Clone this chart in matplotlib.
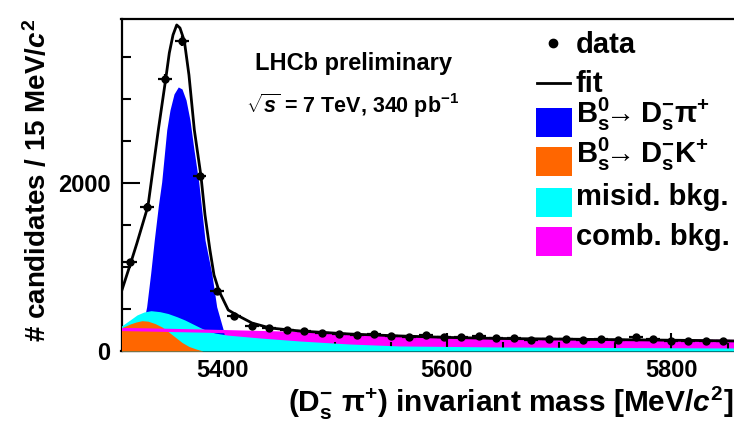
import numpy as np
import matplotlib
matplotlib.use("Agg")
import matplotlib.pyplot as plt
from matplotlib.patches import Rectangle
from matplotlib.lines import Line2D
from matplotlib.ticker import MultipleLocator, FixedLocator

# ---------------- data ----------------
bin_start = 5317.3     # first bin centre [MeV]
bin_width = 15.55      # [MeV]
data_counts = [1065, 1720, 3238, 3694, 2083, 718, 417, 298, 276, 246, 242, 217,
               202, 190, 202, 179, 170, 190, 163, 170, 179, 158, 158, 131, 143,
               139, 131, 139, 131, 163, 139, 123, 119, 123, 119]

fit_x = [5310.4, 5318.5, 5323.8, 5333.6, 5342.8, 5349.4, 5352.6, 5355.9, 5359.2,
         5362.1, 5366.0, 5370.1, 5374.9, 5380.8, 5384.4, 5388.8, 5392.4, 5396.9,
         5405.1, 5412.6, 5426.3, 5442.3, 5469.0, 5513.6, 5558.1, 5602.7, 5647.2,
         5691.8, 5736.3, 5780.8, 5825.4, 5858.0]
fit_y = [726, 1060, 1286, 1726, 2631, 3238, 3548, 3762, 3881, 3845, 3690, 3286,
         2631, 2083, 1619, 1202, 905, 714, 488, 429, 333, 274, 238, 202, 179, 161,
         149, 143, 137, 131, 125, 119]

sig_x = [5320.2, 5324.7, 5329.2, 5332.4, 5336.0, 5339.2, 5342.8, 5345.8, 5350.3,
         5353.2, 5356.8, 5360.6, 5363.9, 5367.5, 5371.0, 5374.6, 5378.8, 5384.4,
         5390.4, 5394.8, 5400.7, 5403.1, 5404.9]
sig_y = [0, 131, 310, 527, 925, 1321, 1726, 2012, 2631, 2869, 3060, 3143, 3119,
         2988, 2750, 2393, 2012, 1321, 925, 527, 250, 71, 0]

dsk_x = [5310.0, 5317.6, 5322.9, 5328.3, 5333.6, 5339.8, 5346.1, 5351.5, 5357.7,
         5364.0, 5370.1, 5376.4, 5382.6]
dsk_y = [277, 321, 345, 361, 355, 327, 286, 232, 167, 101, 54, 24, 0]

misid_x = [5310.0, 5317.6, 5323.8, 5330.0, 5336.3, 5344.3, 5351.5, 5359.4, 5366.5,
           5373.7, 5379.9, 5386.2, 5393.3, 5404.0, 5433.4, 5469.0, 5513.6, 5558.1,
           5647.2, 5736.3, 5858.0]
misid_y = [298, 369, 429, 464, 480, 468, 446, 408, 369, 321, 280, 242, 214, 190,
           155, 119, 83, 60, 48, 42, 36]

comb_x = [5310.0, 5335.4, 5379.9, 5404.0, 5469.0, 5522.5, 5558.1, 5647.2, 5736.3, 5858.0]
comb_y = [256, 250, 238, 230, 208, 173, 161, 137, 125, 113]

x_ticks = [5400, 5600, 5800]
y_ticks = [0, 2000]

legend_labels = ["data", "fit",
                 r"B$_\mathregular{s}^\mathregular{0}$$\!\!\rightarrow$D$_\mathregular{s}^\mathregular{-}$π$^\mathregular{+}$",
                 r"B$_\mathregular{s}^\mathregular{0}$$\!\!\rightarrow$D$_\mathregular{s}^\mathregular{-}$K$^\mathregular{+}$",
                 "misid. bkg.", "comb. bkg."]

# ---------------- style ----------------
W, H = 734, 421
plt.rcParams['font.family'] = ['Liberation Sans', 'DejaVu Sans']
plt.rcParams['font.weight'] = 'bold'
plt.rcParams['mathtext.fontset'] = 'custom'
plt.rcParams['mathtext.rm'] = 'Liberation Sans:bold'
plt.rcParams['mathtext.it'] = 'Liberation Sans:italic:bold'
plt.rcParams['mathtext.bf'] = 'Liberation Sans:bold'

BLUE = '#0000ff'
ORANGE = '#ff6600'
CYAN = '#00ffff'
MAGENTA = '#ff00ff'

fig = plt.figure(figsize=(W / 100, H / 100), dpi=100)

def fx(px):
    return px / W

def fy(py):
    return 1 - py / H

ax_l, ax_r, ax_t, ax_b = 121.5, 738.8, 19, 351
ax = fig.add_axes([fx(ax_l), fy(ax_b), (ax_r - ax_l) / W, (ax_b - ax_t) / H])
ax.set_xlim(5310, 5860)
ax.set_ylim(0, 3952)

bins = bin_start + bin_width * np.arange(len(data_counts))
counts = np.array(data_counts, dtype=float)

ax.fill_between(comb_x, 0, comb_y, color=MAGENTA, lw=0, zorder=1)
ax.fill_between(sig_x, 0, sig_y, color=BLUE, lw=0, zorder=2)
ax.fill_between(misid_x, 0, misid_y, color=CYAN, lw=0, zorder=3)
ax.fill_between(dsk_x, 0, dsk_y, color=ORANGE, lw=0, zorder=4)
ax.plot(comb_x, comb_y, color=MAGENTA, lw=2.3, zorder=5)
ax.plot(fit_x, fit_y, color='black', lw=2.0, zorder=6)
ax.errorbar(bins, counts, yerr=np.sqrt(counts), xerr=bin_width / 2 * 0.8,
            fmt='o', ms=5, color='black', elinewidth=1.6, capsize=0, zorder=7)

ax.spines['right'].set_visible(False)
for s in ['left', 'top', 'bottom']:
    ax.spines[s].set_linewidth(1.6)

ax.xaxis.set_major_locator(FixedLocator(x_ticks))
ax.xaxis.set_minor_locator(MultipleLocator(50))
ax.yaxis.set_major_locator(FixedLocator(y_ticks))
ax.yaxis.set_minor_locator(MultipleLocator(500))
ax.tick_params(axis='both', which='both', direction='in', width=1.5,
               labelsize=17, top=False, right=False)
ax.tick_params(axis='both', which='major', length=13)
ax.tick_params(axis='both', which='minor', length=6.5)
ax.tick_params(axis='y', pad=8)
ax.tick_params(axis='x', pad=6)
for lab in ax.get_xticklabels() + ax.get_yticklabels():
    lab.set_fontweight('bold')

# axis titles
fig.text(fx(38), fy(19), "# candidates / 15 MeV/$\\mathit{c}^\\mathregular{2}$",
         rotation=90, ha='center', va='top', fontsize=20, fontweight='bold')
fig.text(fx(733), fy(412),
         "(D$_\\mathregular{s}^\\mathregular{-}$ π$^\\mathregular{+}$) invariant mass [MeV/$\\mathit{c}^\\mathregular{2}$]",
         ha='right', va='baseline', fontsize=21.5, fontweight='bold')

# annotations
fig.text(fx(255), fy(70), "LHCb preliminary", ha='left', va='baseline',
         fontsize=17, fontweight='bold')
fig.text(fx(246), fy(113), r"$\sqrt{s}$ = 7 TeV, 340 pb$^\mathregular{-1}$",
         ha='left', va='baseline', fontsize=15.5, fontweight='bold')

# legend (manual)
fig.add_artist(Line2D([fx(553)], [fy(43)], marker='o', ms=6, color='black', lw=0))
fig.add_artist(Line2D([fx(537), fx(570)], [fy(83), fy(83)], color='black', lw=2.0))
box_tops = [108, 147, 188, 227]
box_cols = [BLUE, ORANGE, CYAN, MAGENTA]
for top, col in zip(box_tops, box_cols):
    fig.add_artist(Rectangle((fx(536), fy(top + 29)), 36 / W, 29 / H,
                             facecolor=col, edgecolor='none'))
text_base = [53, 92, 123, 163, 205, 245]
for lab, base in zip(legend_labels, text_base):
    fig.text(fx(576), fy(base), lab, ha='left', va='baseline',
             fontsize=21, fontweight='bold')

fig.savefig("out.png", dpi=100)
